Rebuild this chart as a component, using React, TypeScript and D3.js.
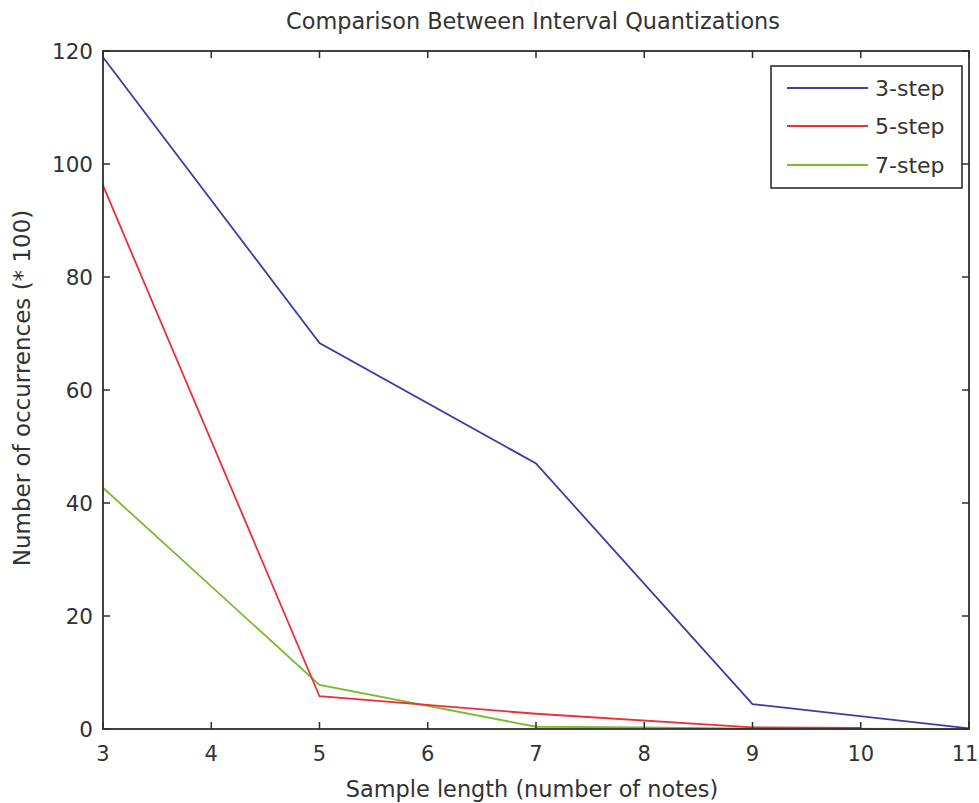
import React from "react";
import * as d3 from "d3";

const title = "Comparison Between Interval Quantizations";
const xLabel = "Sample length (number of notes)";
const yLabel = "Number of occurrences (* 100)";

const xTicks = [3, 4, 5, 6, 7, 8, 9, 10, 11];
const yTicks = [0, 20, 40, 60, 80, 100, 120];

const seriesNames = ["3-step", "5-step", "7-step"];
const seriesColors = ["#3c3ca6", "#ec2f3a", "#7cba2e"];

const x3 = [3, 5, 7, 9, 11];
const v3 = [118.9, 68.3, 47, 4.4, 0.1];
const x5 = [3, 5, 7, 9, 10];
const v5 = [96.2, 5.8, 2.7, 0.3, 0.2];
const x7 = [3, 5, 7, 8, 9, 11];
const v7 = [42.7, 7.8, 0.4, 0.3, 0.05, 0];

const W = 979;
const H = 803;
const M = { left: 103, right: 969, top: 51, bottom: 729 };
const FONT = "'DejaVu Sans', sans-serif";
const AX = "#2e2e2e";
const TXT = "#333";

export default function App() {
  const x = d3.scaleLinear().domain([3, 11]).range([M.left, M.right]);
  const y = d3.scaleLinear().domain([0, 120]).range([M.bottom, M.top]);
  const line = d3
    .line<[number, number]>()
    .x((d) => x(d[0]))
    .y((d) => y(d[1]));

  const series = [
    { xs: x3, vs: v3 },
    { xs: x5, vs: v5 },
    { xs: x7, vs: v7 },
  ];
  const tl = 7;

  const legX = 771;
  const legY = 66;
  const legW = 191;
  const legH = 122;
  const rowYs = [88, 126, 165];

  return (
    <svg
      width={W}
      height={H}
      style={{ position: "absolute", left: 0, top: 0, background: "#fff" }}
      fontFamily={FONT}
    >
      <rect x={0} y={0} width={W} height={H} fill="#fff" />
      {series
        .map((s, i) => ({ s, i }))
        .reverse()
        .map(({ s, i }) => (
          <path
            key={i}
            d={line(s.xs.map((xv, k) => [xv, s.vs[k]] as [number, number])) || ""}
            fill="none"
            stroke={seriesColors[i]}
            strokeWidth={1.8}
          />
        ))}
      <rect
        x={M.left}
        y={M.top}
        width={M.right - M.left}
        height={M.bottom - M.top}
        fill="none"
        stroke={AX}
        strokeWidth={1.8}
      />
      {xTicks.map((t) => (
        <g key={"xt" + t}>
          <line x1={x(t)} x2={x(t)} y1={M.bottom} y2={M.bottom - tl} stroke={AX} strokeWidth={1.5} />
          <line x1={x(t)} x2={x(t)} y1={M.top} y2={M.top + tl} stroke={AX} strokeWidth={1.5} />
          <text x={Math.min(x(t), W - 14)} y={761} textAnchor="middle" fontSize={21} fill={TXT}>
            {t}
          </text>
        </g>
      ))}
      {yTicks.map((t) => (
        <g key={"yt" + t}>
          <line x1={M.left} x2={M.left + tl} y1={y(t)} y2={y(t)} stroke={AX} strokeWidth={1.5} />
          <line x1={M.right} x2={M.right - tl} y1={y(t)} y2={y(t)} stroke={AX} strokeWidth={1.5} />
          <text x={93} y={y(t) + 8} textAnchor="end" fontSize={21.5} fill={TXT}>
            {t}
          </text>
        </g>
      ))}
      <text x={533} y={29} textAnchor="middle" fontSize={22.4} fill={TXT}>
        {title}
      </text>
      <text x={532} y={797} textAnchor="middle" fontSize={22.4} fill={TXT}>
        {xLabel}
      </text>
      <text
        transform={`translate(30, 388) rotate(-90)`}
        textAnchor="middle"
        fontSize={23}
        fill={TXT}
      >
        {yLabel}
      </text>
      <rect x={legX} y={legY} width={legW} height={legH} fill="#fff" stroke={AX} strokeWidth={1.6} />
      {seriesNames.map((n, i) => (
        <g key={n}>
          <line x1={787} x2={868} y1={rowYs[i]} y2={rowYs[i]} stroke={seriesColors[i]} strokeWidth={1.8} />
          <text x={875} y={rowYs[i] + 8} fontSize={22} fill={TXT}>
            {n}
          </text>
        </g>
      ))}
    </svg>
  );
}
